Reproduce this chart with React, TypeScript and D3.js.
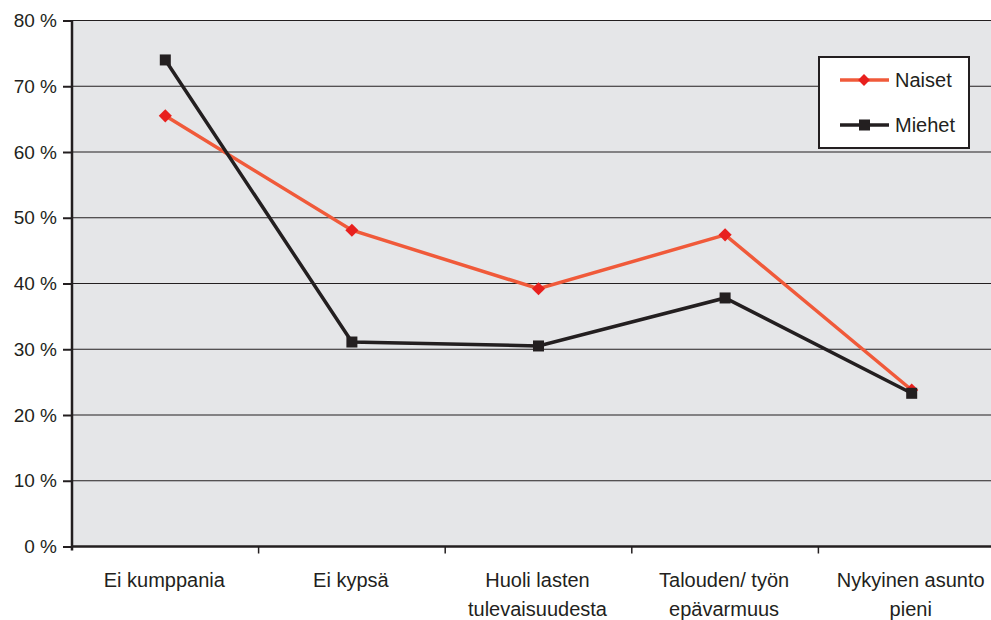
import React, { useRef, useEffect } from 'react';
import * as d3 from 'd3';

const categories = ['Ei kumppania', 'Ei kypsä', 'Huoli lasten|tulevaisuudesta', 'Talouden/ työn|epävarmuus', 'Nykyinen asunto|pieni'];
const naiset = [65.5, 48.1, 39.2, 47.4, 23.8];
const miehet = [74.0, 31.1, 30.5, 37.8, 23.3];
const yTicks = [0, 10, 20, 30, 40, 50, 60, 70, 80];

function App() {
    const svgRef = useRef<SVGSVGElement>(null);

    useEffect(() => {
        document.body.style.margin = '0';
        const width = 991;
        const height = 620;
        const margin = { top: 20.5, bottom: 73.5, left: 72, right: -14 };
        const ink = '#231f20';

        const svg = d3.select(svgRef.current)
            .attr('width', width)
            .attr('height', height)
            .style('display', 'block')
            .style('font-family', 'Liberation Sans, Arial, sans-serif');
        svg.selectAll('*').remove();

        const xScale = d3.scaleBand<string>()
            .domain(categories)
            .range([margin.left, width - margin.right]);

        const yScale = d3.scaleLinear()
            .domain([0, 80])
            .range([height - margin.bottom, margin.top]);

        // plot background
        svg.append('rect')
            .attr('x', margin.left)
            .attr('y', margin.top)
            .attr('width', width - margin.right - margin.left)
            .attr('height', yScale(0) - margin.top)
            .attr('fill', '#e5e6e8');

        // gridlines
        svg.append('g')
            .selectAll('line')
            .data(yTicks.slice(1))
            .join('line')
            .attr('x1', margin.left)
            .attr('x2', width)
            .attr('y1', d => yScale(d))
            .attr('y2', d => yScale(d))
            .attr('stroke', ink)
            .attr('stroke-width', 1.2);

        // y axis
        const yAxis = svg.append('g')
            .attr('transform', `translate(${margin.left}, 0)`)
            .call(d3.axisLeft(yScale).tickValues(yTicks).tickSize(9).tickPadding(6).tickFormat(d => `${d} %`));
        yAxis.select('.domain').remove();
        yAxis.selectAll('line').attr('stroke', ink).attr('stroke-width', 2);
        yAxis.selectAll('text').attr('font-size', 19).attr('fill', ink).attr('font-family', 'Liberation Sans, Arial, sans-serif');
        svg.append('line')
            .attr('x1', margin.left).attr('x2', margin.left)
            .attr('y1', margin.top).attr('y2', yScale(0) + 4)
            .attr('stroke', ink).attr('stroke-width', 2.5);

        // x axis
        svg.append('line')
            .attr('x1', margin.left).attr('x2', width)
            .attr('y1', yScale(0)).attr('y2', yScale(0))
            .attr('stroke', ink).attr('stroke-width', 2.5);
        svg.append('g')
            .selectAll('line')
            .data(categories.slice(1))
            .join('line')
            .attr('x1', d => xScale(d)!)
            .attr('x2', d => xScale(d)!)
            .attr('y1', yScale(0))
            .attr('y2', yScale(0) + 7)
            .attr('stroke', ink)
            .attr('stroke-width', 1.5);

        const labels = svg.append('g')
            .selectAll('text')
            .data(categories)
            .join('text')
            .attr('x', d => xScale(d)! + xScale.bandwidth() / 2)
            .attr('y', 587)
            .attr('text-anchor', 'middle')
            .attr('font-size', 20)
            .attr('fill', ink);
        labels.each(function (d) {
            const parts = d.split('|');
            d3.select(this).selectAll('tspan')
                .data(parts)
                .join('tspan')
                .attr('x', xScale(d)! + xScale.bandwidth() / 2 - 1)
                .attr('dy', (p, i) => (i === 0 ? 0 : 29))
                .text(p => p);
        });

        const xCenter = (i: number) => xScale(categories[i])! + xScale.bandwidth() / 2;
        const line = d3.line<number>()
            .x((d, i) => xCenter(i))
            .y(d => yScale(d));

        // Naiset
        svg.append('path')
            .datum(naiset)
            .attr('d', line)
            .attr('fill', 'none')
            .attr('stroke', '#f05a3a')
            .attr('stroke-width', 3.5);
        svg.append('g')
            .selectAll('path')
            .data(naiset)
            .join('path')
            .attr('d', d3.symbol(d3.symbolDiamond2, 110))
            .attr('transform', (d, i) => `translate(${xCenter(i)}, ${yScale(d)})`)
            .attr('fill', '#e8201e');

        // Miehet
        svg.append('path')
            .datum(miehet)
            .attr('d', line)
            .attr('fill', 'none')
            .attr('stroke', ink)
            .attr('stroke-width', 3.5);
        svg.append('g')
            .selectAll('rect')
            .data(miehet)
            .join('rect')
            .attr('x', (d, i) => xCenter(i) - 5.5)
            .attr('y', d => yScale(d) - 5.5)
            .attr('width', 11)
            .attr('height', 11)
            .attr('fill', ink);

        // legend
        const legend = svg.append('g');
        legend.append('rect')
            .attr('x', 819).attr('y', 57)
            .attr('width', 150).attr('height', 91)
            .attr('fill', '#ffffff')
            .attr('stroke', ink)
            .attr('stroke-width', 2);
        const items = [
            { name: 'Naiset', color: '#f05a3a', marker: '#e8201e', y: 80 },
            { name: 'Miehet', color: ink, marker: ink, y: 125 },
        ];
        items.forEach((it, k) => {
            legend.append('line')
                .attr('x1', 840).attr('x2', 889)
                .attr('y1', it.y).attr('y2', it.y)
                .attr('stroke', it.color).attr('stroke-width', 3.5);
            if (k === 0) {
                legend.append('path')
                    .attr('d', d3.symbol(d3.symbolDiamond2, 90)())
                    .attr('transform', `translate(864, ${it.y})`)
                    .attr('fill', it.marker);
            } else {
                legend.append('rect')
                    .attr('x', 859).attr('y', it.y - 5.5)
                    .attr('width', 11).attr('height', 11)
                    .attr('fill', it.marker);
            }
            legend.append('text')
                .attr('x', 895).attr('y', it.y + 7)
                .attr('font-size', 20)
                .attr('fill', ink)
                .text(it.name);
        });
    }, []);

    return <svg ref={svgRef}></svg>;
}

export default App;
